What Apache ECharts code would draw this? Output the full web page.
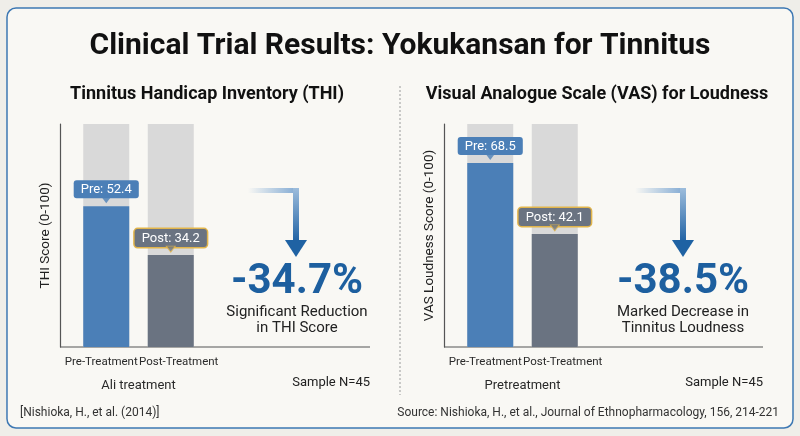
<!DOCTYPE html>
<html lang="en">
<head>
  <meta charset="UTF-8">
  <title>Clinical Trial Results: Yokukansan for Tinnitus</title>
  <style>
    html, body { margin: 0; padding: 0; background: #efeee9; }
    #main { width: 800px; height: 436px; }
  </style>
</head>
<body>
  <div id="main"></div>
  <script src="https://cdn.jsdelivr.net/npm/echarts@6/dist/echarts.min.js"></script>
  <script>
    // data
    const categories = ['Pre-Treatment', 'Post-Treatment'];
    const thiValues = [52.4, 34.2];
    const vasValues = [68.5, 42.1];
    const labelPrefixes = ['Pre', 'Post'];
    const thiChange = '-34.7%';
    const vasChange = '-38.5%';

    const FONT = "'Roboto', sans-serif";
    const barColors = ['#4b7fb7', '#6a7381'];
    const labelBoxes = [
      { backgroundColor: '#4b7fb7', borderColor: '#4b7fb7', borderWidth: 0 },
      { backgroundColor: '#6a7381', borderColor: '#e2b54b', borderWidth: 1.5 }
    ];
    // category labels sit slightly apart from the bar centres
    const catPadding = [[0, 10, 0, 0], [0, 0, 0, 16]];
    const AXIS_MAX = 83;

    let myChart = echarts.init(document.getElementById('main'));

    function barSeries(values, gridIdx) {
      return {
        type: 'bar',
        xAxisIndex: gridIdx,
        yAxisIndex: gridIdx,
        barWidth: 46,
        showBackground: true,
        backgroundStyle: { color: '#d9d9d9' },
        data: values.map((v, i) => ({
          value: v,
          itemStyle: { color: barColors[i] },
          label: Object.assign({}, labelBoxes[i])
        })),
        label: {
          show: true,
          position: 'top',
          distance: 8,
          color: '#fff',
          fontFamily: FONT,
          fontSize: 13,
          padding: [3, 7, 2, 7],
          borderRadius: 3,
          formatter: p => labelPrefixes[p.dataIndex] + ': ' + p.value
        },
        z: 2
      };
    }

    // little pointer under each value box
    function pointerSeries(values, gridIdx) {
      return {
        type: 'scatter',
        xAxisIndex: gridIdx,
        yAxisIndex: gridIdx,
        symbol: 'triangle',
        symbolRotate: 180,
        symbolSize: [9, 6],
        symbolOffset: [0, -6],
        silent: true,
        data: values.map((v, i) => ({
          value: v,
          itemStyle: {
            color: labelBoxes[i].backgroundColor,
            borderColor: labelBoxes[i].borderColor,
            borderWidth: labelBoxes[i].borderWidth ? 1 : 0
          }
        })),
        z: 5
      };
    }

    function xAxisCfg(gridIdx, name) {
      return {
        type: 'category',
        gridIndex: gridIdx,
        data: categories.map((c, i) => ({ value: c, textStyle: { padding: catPadding[i] } })),
        axisLine: { show: false },
        axisTick: { show: false },
        axisLabel: { interval: 0, color: '#2a2a2a', fontFamily: FONT, fontSize: 11.5, margin: 9 },
        name: name,
        nameLocation: 'middle',
        nameGap: 32,
        nameTextStyle: { color: '#2a2a2a', fontFamily: FONT, fontSize: 13 }
      };
    }

    function yAxisCfg(gridIdx, name) {
      return {
        type: 'value',
        gridIndex: gridIdx,
        min: 0,
        max: AXIS_MAX,
        offset: 14,
        axisLine: { show: true, lineStyle: { color: '#555', width: 1.2 } },
        axisTick: { show: false },
        axisLabel: { show: false },
        splitLine: { show: false },
        name: name,
        nameLocation: 'middle',
        nameGap: 7,
        nameRotate: 90,
        nameTextStyle: { color: '#222', fontFamily: FONT, fontSize: 13.5 }
      };
    }

    function arrow(x0, xv, yTop, yHead) {
      // gradient elbow arrow: horizontal run, vertical drop, solid head
      return [
        {
          type: 'rect',
          shape: { x: x0, y: yTop, width: xv + 3 - x0, height: 5 },
          style: {
            fill: new echarts.graphic.LinearGradient(0, 0, 1, 0, [
              { offset: 0, color: 'rgba(120,165,210,0)' },
              { offset: 1, color: '#7fa8d2' }
            ])
          }
        },
        {
          type: 'rect',
          shape: { x: xv - 3, y: yTop, width: 6, height: yHead - yTop },
          style: {
            fill: new echarts.graphic.LinearGradient(0, 0, 0, 1, [
              { offset: 0, color: '#9dbddc' },
              { offset: 1, color: '#2465a6' }
            ])
          }
        },
        {
          type: 'polygon',
          shape: { points: [[xv - 11, yHead], [xv + 11, yHead], [xv, yHead + 17]] },
          style: { fill: '#1f62a3' }
        }
      ];
    }

    function text(x, y, str, opts) {
      return {
        type: 'text',
        x: x,
        y: y,
        style: Object.assign({
          text: str,
          fontFamily: FONT,
          fill: '#222',
          align: 'center',
          verticalAlign: 'middle'
        }, opts)
      };
    }

    let option = {
      backgroundColor: '#efeee9',
      animation: false,
      grid: [
        { left: 74, top: 124, width: 129, bottom: 89 },
        { left: 458, top: 124, width: 129, bottom: 89 }
      ],
      xAxis: [xAxisCfg(0, 'Ali treatment'), xAxisCfg(1, 'Pretreatment')],
      yAxis: [yAxisCfg(0, 'THI Score (0-100)'), yAxisCfg(1, 'VAS Loudness Score (0-100)')],
      series: [
        barSeries(thiValues, 0),
        pointerSeries(thiValues, 0),
        barSeries(vasValues, 1),
        pointerSeries(vasValues, 1)
      ],
      graphic: [
        {
          type: 'rect',
          z: -10,
          shape: { x: 7, y: 8, width: 786, height: 420, r: 9 },
          style: { fill: '#f9f8f4', stroke: '#3d78b3', lineWidth: 1.5 }
        },
        // baselines
        { type: 'line', shape: { x1: 60, y1: 347, x2: 370, y2: 347 }, style: { stroke: '#555', lineWidth: 1.2 } },
        { type: 'line', shape: { x1: 444, y1: 347, x2: 763, y2: 347 }, style: { stroke: '#555', lineWidth: 1.2 } },
        // divider
        {
          type: 'line',
          shape: { x1: 400, y1: 86, x2: 400, y2: 395 },
          style: { stroke: '#9a9a9a', lineWidth: 1, lineDash: [2, 2] }
        },
        text(400, 46, 'Clinical Trial Results: Yokukansan for Tinnitus', { fontSize: 30, fontWeight: 'bold', fill: '#111' }),
        text(207, 94, 'Tinnitus Handicap Inventory (THI)', { fontSize: 18, fontWeight: 'bold', fill: '#111' }),
        text(597, 94, 'Visual Analogue Scale (VAS) for Loudness', { fontSize: 18, fontWeight: 'bold', fill: '#111' }),
        ...arrow(248, 296, 188, 240),
        ...arrow(635, 683, 188, 240),
        text(297, 282, thiChange, { fontSize: 42, fontWeight: 'bold', fill: '#1d5f9f' }),
        text(297, 312, 'Significant Reduction', { fontSize: 15 }),
        text(297, 328, 'in THI Score', { fontSize: 15 }),
        text(683, 282, vasChange, { fontSize: 42, fontWeight: 'bold', fill: '#1d5f9f' }),
        text(683, 312, 'Marked Decrease in', { fontSize: 15 }),
        text(683, 328, 'Tinnitus Loudness', { fontSize: 15 }),
        text(370, 383, 'Sample N=45', { fontSize: 13, align: 'right' }),
        text(763, 383, 'Sample N=45', { fontSize: 13, align: 'right' }),
        text(20, 413, '[Nishioka, H., et al. (2014)]', { fontSize: 12, align: 'left', fill: '#333' }),
        text(779, 413, 'Source: Nishioka, H., et al., Journal of Ethnopharmacology, 156, 214-221', { fontSize: 12, align: 'right', fill: '#333' })
      ]
    };

    myChart.setOption(option);
  </script>
</body>
</html>
